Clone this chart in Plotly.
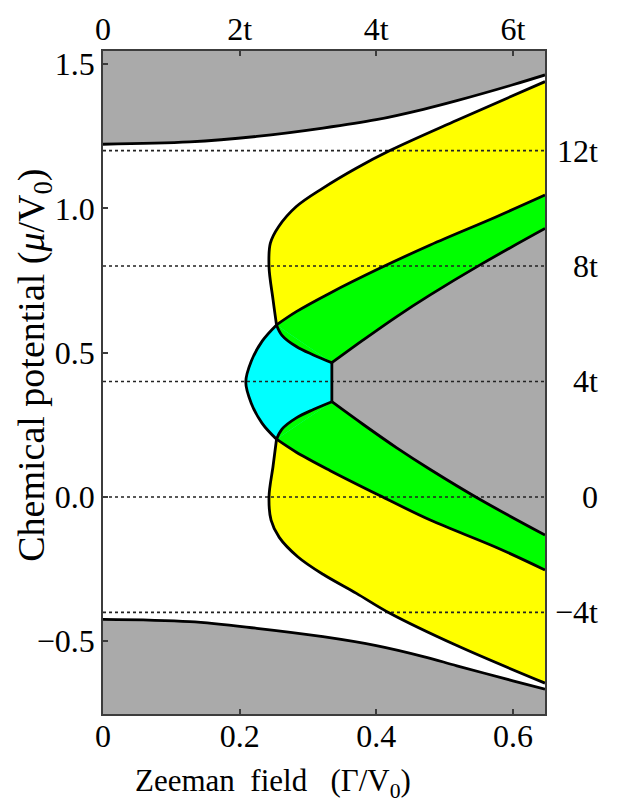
import plotly.graph_objects as go

# ---- axis layout ----
X_RANGE = [0.0, 0.647]
Y_RANGE = [-0.752, 1.545]

BOTTOM_TICKS = [0.0, 0.2, 0.4, 0.6]
BOTTOM_TICK_TEXT = ["0", "0.2", "0.4", "0.6"]
TOP_TICK_TEXT = ["0", "2t", "4t", "6t"]
LEFT_TICKS = [-0.5, 0.0, 0.5, 1.0, 1.5]
LEFT_TICK_TEXT = ["\u22120.5", "0.0", "0.5", "1.0", "1.5"]
RIGHT_TICKS = [1.2, 0.8, 0.4, 0.0, -0.4]
RIGHT_TICK_TEXT = ["12t", "8t", "4t", "0", "\u22124t"]

# dotted reference levels (multiples of 4t)
MU_LEVELS = [-0.4, 0.0, 0.4, 0.8, 1.2]

# ---- phase boundaries ----
# edge of the upper continuum
GAP_TOP_X = [0.0, 0.127, 0.225, 0.322, 0.400, 0.469, 0.518, 0.600, 0.647]
GAP_TOP_Y = [1.222, 1.230, 1.249, 1.278, 1.307, 1.343, 1.373, 1.428, 1.462]
# edge of the lower continuum
GAP_BOT_X = [0.0, 0.127, 0.225, 0.322, 0.400, 0.469, 0.518, 0.600, 0.647]
GAP_BOT_Y = [-0.424, -0.432, -0.455, -0.484, -0.515, -0.553, -0.585, -0.637, -0.666]

# outer edge of the yellow phase
YEL_TOP_X = [0.254, 0.249, 0.243, 0.245, 0.257, 0.283, 0.322, 0.370, 0.420, 0.518, 0.647]
YEL_TOP_Y = [0.596, 0.682, 0.798, 0.879, 0.936, 1.006, 1.070, 1.138, 1.200, 1.305, 1.439]
YEL_BOT_X = [0.254, 0.249, 0.243, 0.246, 0.258, 0.285, 0.322, 0.371, 0.420, 0.518, 0.647]
YEL_BOT_Y = [0.200, 0.108, 0.000, -0.080, -0.140, -0.207, -0.268, -0.334, -0.403, -0.515, -0.645]

# yellow / green boundaries
GRN_TOP_OUT_X = [0.254, 0.283, 0.332, 0.405, 0.479, 0.576, 0.647]
GRN_TOP_OUT_Y = [0.596, 0.642, 0.706, 0.792, 0.873, 0.971, 1.046]
GRN_BOT_OUT_X = [0.254, 0.283, 0.332, 0.405, 0.479, 0.576, 0.647]
GRN_BOT_OUT_Y = [0.200, 0.155, 0.092, 0.005, -0.080, -0.175, -0.253]

# green / gray boundaries
GRN_TOP_IN_X = [0.335, 0.381, 0.430, 0.479, 0.552, 0.647]
GRN_TOP_IN_Y = [0.465, 0.544, 0.625, 0.700, 0.804, 0.930]
GRN_BOT_IN_X = [0.335, 0.381, 0.430, 0.479, 0.552, 0.647]
GRN_BOT_IN_Y = [0.330, 0.251, 0.170, 0.095, -0.009, -0.132]

# cyan / green boundaries
CYAN_TOP_X = [0.254, 0.262, 0.283, 0.308, 0.335]
CYAN_TOP_Y = [0.596, 0.560, 0.521, 0.492, 0.465]
CYAN_BOT_X = [0.254, 0.262, 0.283, 0.308, 0.335]
CYAN_BOT_Y = [0.200, 0.235, 0.274, 0.303, 0.330]

# cyan / white boundary
CYAN_LEFT_X = [0.254, 0.233, 0.217, 0.209, 0.217, 0.233, 0.254]
CYAN_LEFT_Y = [0.596, 0.540, 0.470, 0.398, 0.325, 0.255, 0.200]

# vertical cyan / gray edge
CYAN_EDGE_X = [0.335, 0.335]
CYAN_EDGE_Y = [0.465, 0.330]

GRAY = "#aaaaaa"
YELLOW = "#ffff00"
GREEN = "#00ff00"
CYAN = "#00ffff"
FRAME = "#3c3c3c"
FONT = "Liberation Serif"

fig = go.Figure()


def hidden(x, y, shape="spline", fill="none", color=None):
    """Invisible path; used as a fill boundary."""
    return go.Scatter(
        x=x, y=y, mode="lines",
        line=dict(width=0, color="rgba(0,0,0,0)", shape=shape),
        fill=fill, fillcolor=color,
        showlegend=False, hoverinfo="skip",
    )


def band(a_x, a_y, b_x, b_y, color, a_shape="spline", b_shape="spline"):
    fig.add_trace(hidden(a_x, a_y, shape=a_shape))
    fig.add_trace(hidden(b_x, b_y, shape=b_shape, fill="tonexty", color=color))


pad = 0.05
top = Y_RANGE[1] + pad
bot = Y_RANGE[0] - pad

# continua above and below the gap
band(GAP_TOP_X, GAP_TOP_Y, [X_RANGE[0], X_RANGE[1]], [top, top], GRAY, b_shape="linear")
band(GAP_BOT_X, GAP_BOT_Y, [X_RANGE[0], X_RANGE[1]], [bot, bot], GRAY, b_shape="linear")

# yellow phase
band(GRN_TOP_OUT_X, GRN_TOP_OUT_Y, YEL_TOP_X, YEL_TOP_Y, YELLOW)
band(GRN_BOT_OUT_X, GRN_BOT_OUT_Y, YEL_BOT_X, YEL_BOT_Y, YELLOW)

# green phase (interior later overpainted by cyan and gray)
band(GRN_TOP_OUT_X, GRN_TOP_OUT_Y, GRN_BOT_OUT_X, GRN_BOT_OUT_Y, GREEN)

# cyan phase
band(CYAN_EDGE_X, CYAN_EDGE_Y, CYAN_LEFT_X, CYAN_LEFT_Y, CYAN, a_shape="linear")

# green slivers between the cyan chords and the curved cyan/green edges
fig.add_trace(hidden(CYAN_TOP_X, CYAN_TOP_Y, fill="toself", color=GREEN))
fig.add_trace(hidden(CYAN_BOT_X, CYAN_BOT_Y, fill="toself", color=GREEN))

# gapped (gray) wedge on the right
band(GRN_TOP_IN_X, GRN_TOP_IN_Y, GRN_BOT_IN_X, GRN_BOT_IN_Y, GRAY)

# dotted levels
for mu in MU_LEVELS:
    fig.add_trace(go.Scatter(
        x=X_RANGE, y=[mu, mu], mode="lines",
        line=dict(color="#222222", width=1.6, dash="dot"),
        showlegend=False, hoverinfo="skip",
    ))

# black phase boundaries
curves = [
    (GAP_TOP_X, GAP_TOP_Y), (GAP_BOT_X, GAP_BOT_Y),
    (YEL_TOP_X, YEL_TOP_Y), (YEL_BOT_X, YEL_BOT_Y),
    (GRN_TOP_OUT_X, GRN_TOP_OUT_Y), (GRN_BOT_OUT_X, GRN_BOT_OUT_Y),
    (GRN_TOP_IN_X, GRN_TOP_IN_Y), (GRN_BOT_IN_X, GRN_BOT_IN_Y),
    (CYAN_TOP_X, CYAN_TOP_Y), (CYAN_BOT_X, CYAN_BOT_Y),
    (CYAN_LEFT_X, CYAN_LEFT_Y),
]
for cx, cy in curves:
    fig.add_trace(go.Scatter(
        x=cx, y=cy, mode="lines",
        line=dict(color="black", width=2.8, shape="spline"),
        showlegend=False, hoverinfo="skip",
    ))
fig.add_trace(go.Scatter(
    x=CYAN_EDGE_X, y=CYAN_EDGE_Y, mode="lines",
    line=dict(color="black", width=2.8),
    showlegend=False, hoverinfo="skip",
))

# placeholder trace so the top axis is drawn
fig.add_trace(go.Scatter(x=[None], y=[None], xaxis="x2", showlegend=False, hoverinfo="skip"))

tick_font = dict(family=FONT, size=32, color="black")

# right-hand labels in units of t
annotations = [
    dict(x=1.124, xref="paper", y=v, yref="y", text=t, showarrow=False,
         xanchor="right", yanchor="middle", font=tick_font)
    for v, t in zip(RIGHT_TICKS, RIGHT_TICK_TEXT)
]
annotations.append(dict(
    x=0.385, xref="paper", y=-0.104, yref="paper",
    text="Zeeman\u00a0\u00a0field\u00a0\u00a0\u00a0(\u0393/V<sub>0</sub>)",
    showarrow=False, xanchor="center", yanchor="middle",
    font=dict(family=FONT, size=31, color="black"),
))
annotations.append(dict(
    x=-0.155, xref="paper", y=0.526, yref="paper",
    text="Chemical potential (<i>\u03bc</i>/V<sub>0</sub>)",
    textangle=-90, showarrow=False, xanchor="center", yanchor="middle",
    font=dict(family=FONT, size=38, color="black"),
))

fig.update_layout(
    width=617, height=802,
    margin=dict(l=103, r=72, t=51, b=88),
    paper_bgcolor="white", plot_bgcolor="white",
    showlegend=False,
    xaxis=dict(
        range=X_RANGE, tickvals=BOTTOM_TICKS, ticktext=BOTTOM_TICK_TEXT,
        ticks="inside", ticklen=5, tickwidth=1.5, tickcolor=FRAME,
        showline=True, linecolor=FRAME, linewidth=1.6, mirror="ticks",
        showgrid=False, zeroline=False, tickfont=tick_font,
        ticklabelstandoff=-7,
    ),
    xaxis2=dict(
        range=X_RANGE, overlaying="x", side="top", anchor="y",
        tickvals=BOTTOM_TICKS, ticktext=TOP_TICK_TEXT, ticks="",
        showgrid=False, zeroline=False, showline=False, tickfont=tick_font,
        ticklabelstandoff=4,
    ),
    yaxis=dict(
        range=Y_RANGE, tickvals=LEFT_TICKS, ticktext=LEFT_TICK_TEXT,
        ticks="inside", ticklen=5, tickwidth=1.5, tickcolor=FRAME,
        showline=True, linecolor=FRAME, linewidth=1.6, mirror=True,
        showgrid=False, zeroline=False, tickfont=tick_font,
    ),
    annotations=annotations,
)

fig.write_html("out.html")
